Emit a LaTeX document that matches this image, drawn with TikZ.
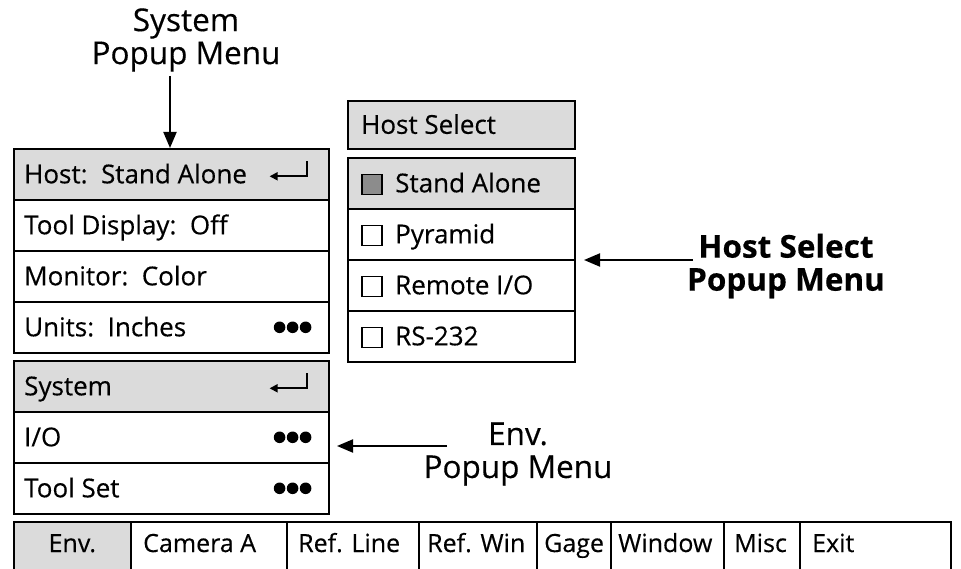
\documentclass[tikz,border=0pt]{standalone}
\usepackage{fontspec}
\setmainfont{Open Sans}[FakeBold=0.35]
\usetikzlibrary{arrows.meta,calc}
\tikzset{
  boxline/.style={draw=black, line width=1.6pt},
  shaded/.style={fill=black!14},
  rowbox/.style={boxline, anchor=north west, inner sep=0pt, minimum width=#1, minimum height=51pt},
  rowbox/.default=315pt,
  lbl/.style={anchor=base west, inner sep=0pt, font=\fontsize{26}{30}\selectfont},
  barlbl/.style={anchor=base west, inner sep=0pt, font=\fontsize{25}{30}\selectfont},
  biglbl/.style={align=center, inner sep=0pt, font=\fontsize{31.5}{33}\selectfont},
  pointer/.style={line width=2pt, -{Triangle[length=16pt,width=13pt]}},
  retsym/.style={line width=1.8pt},
  dot/.style={fill=black, draw=none},
  chk/.style={draw=black, line width=1.3pt, minimum width=20pt, minimum height=20pt, inner sep=0pt},
  cell/.style={boxline, anchor=north west, inner sep=0pt, minimum height=70pt}
}
\begin{document}
\begin{tikzpicture}[x=1pt,y=-1pt]
\useasboundingbox (0,0) rectangle (961,569);

% ---- System popup menu (left, upper)
\node[rowbox, shaded] (h1) at (13,148) {};
\node[rowbox] (h2) at (13,199) {};
\node[rowbox] (h3) at (13,250) {};
\node[rowbox] (h4) at (13,301) {};
\node[lbl] (h1t) at ($(h1.west)+(11,9)$) {Host:\ \ Stand Alone};
\node[lbl] (h2t) at ($(h2.west)+(11,9)$) {Tool Display:\ \ Off};
\node[lbl] (h3t) at ($(h3.west)+(11,9)$) {Monitor:\ \ Color};
\node[lbl] (h4t) at ($(h4.west)+(11,9)$) {Units:\ \ Inches};

% ---- Env popup menu (left, lower)
\node[rowbox, shaded] (e1) at (13,360) {};
\node[rowbox] (e2) at (13,411) {};
\node[rowbox] (e3) at (13,462) {};
\node[lbl] (e1t) at ($(e1.west)+(11,9)$) {System};
\node[lbl] (e2t) at ($(e2.west)+(11,9)$) {I/O};
\node[lbl] (e3t) at ($(e3.west)+(11,9)$) {Tool Set};

% return symbols
\foreach \r in {h1,e1}{
  \draw[retsym] ($(\r.east)+(-23,-13)$) -- ($(\r.east)+(-23,2)$) -- ($(\r.east)+(-40,2)$);
  \draw[retsym, -{Triangle[length=8pt,width=8pt]}] ($(\r.east)+(-38,2)$) -- ($(\r.east)+(-60,2)$);
}
% more-dots
\foreach \r in {h4,e2,e3}{
  \foreach \dx in {24,37,50}{
    \fill[dot] ($(\r.east)+(-\dx,0)$) circle (5.8pt);
  }
}

% ---- Host Select popup menu
\node[rowbox=227pt, shaded, minimum height=48pt] (t) at (347,100) {};
\node[lbl] (tt) at ($(t.west)+(14,9)$) {Host Select};
\node[rowbox=227pt, shaded] (s1) at (347,157) {};
\node[rowbox=227pt] (s2) at (347,208) {};
\node[rowbox=227pt] (s3) at (347,259) {};
\node[rowbox=227pt] (s4) at (347,310) {};
\node[chk, fill=black!45] (c1) at ($(s1.west)+(25,1)$) {};
\node[chk] (c2) at ($(s2.west)+(25,1)$) {};
\node[chk] (c3) at ($(s3.west)+(25,1)$) {};
\node[chk] (c4) at ($(s4.west)+(25,1)$) {};
\node[lbl] (s1t) at ($(s1.west)+(48,9)$) {Stand Alone};
\node[lbl] (s2t) at ($(s2.west)+(48,9)$) {Pyramid};
\node[lbl] (s3t) at ($(s3.west)+(48,9)$) {Remote I/O};
\node[lbl] (s4t) at ($(s4.west)+(48,9)$) {RS-232};

% ---- Bottom menu bar
\node[cell, shaded, minimum width=117pt] (b1) at (13,521) {};
\node[cell, minimum width=156pt] (b2) at (130,521) {};
\node[cell, minimum width=132pt] (b3) at (286,521) {};
\node[cell, minimum width=118pt] (b4) at (418,521) {};
\node[cell, minimum width=74pt] (b5) at (536,521) {};
\node[cell, minimum width=113pt] (b6) at (610,521) {};
\node[cell, minimum width=76pt] (b7) at (723,521) {};
\node[cell, minimum width=151pt] (b8) at (799,521) {};
\node[barlbl, anchor=base] (b1t) at ($(b1.north)+(0,31)$) {Env.};
\node[barlbl] (b2t) at ($(b2.north west)+(13,31)$) {Camera A};
\node[barlbl] (b3t) at ($(b3.north west)+(12,31)$) {Ref. Line};
\node[barlbl] (b4t) at ($(b4.north west)+(9,31)$) {Ref. Win};
\node[barlbl] (b5t) at ($(b5.north west)+(8,31)$) {Gage};
\node[barlbl] (b6t) at ($(b6.north west)+(8,31)$) {Window};
\node[barlbl] (b7t) at ($(b7.north west)+(11,31)$) {Misc};
\node[barlbl] (b8t) at ($(b8.north west)+(13,31)$) {Exit};

% ---- Callout labels and pointers
\node[biglbl] (L1) at (186,40) {System\\Popup Menu};
\coordinate (L1a) at (170,76);
\draw[pointer] (L1a) -- (L1a |- h1.north);

\node[biglbl, font=\fontsize{31.5}{33}\selectfont\bfseries] (L2) at (786,266) {Host Select\\Popup Menu};
\coordinate (L2a) at (693,260);
\coordinate (L2b) at (584,260);
\draw[pointer] (L2a) -- (L2b);

\node[biglbl] (L3) at (518,454) {Env.\\Popup Menu};
\coordinate (L3a) at (447,446);
\coordinate (L3b) at (337,446);
\draw[pointer] (L3a) -- (L3b);
\end{tikzpicture}
\end{document}
